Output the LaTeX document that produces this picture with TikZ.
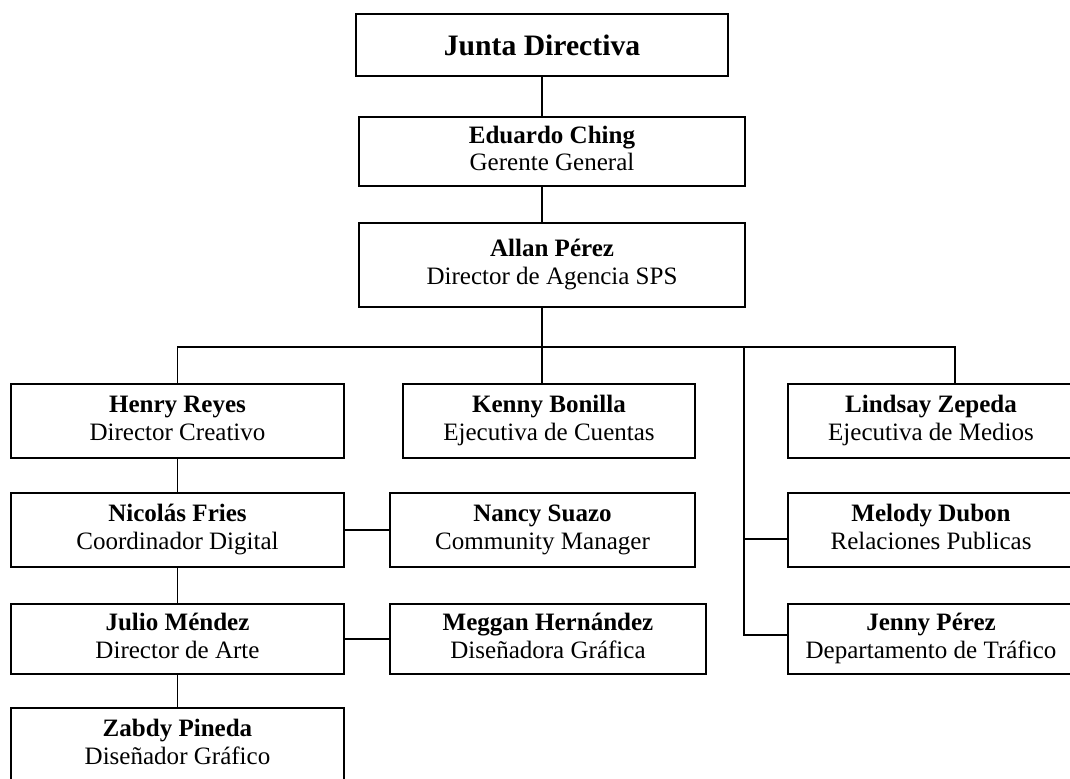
\documentclass[tikz,border=0pt]{standalone}
\usepackage{fontspec}
\setmainfont{Liberation Serif}
\usetikzlibrary{positioning}

\newcommand{\cargo}[2]{\textbf{#1}\strut\\#2\strut}

\begin{document}
\begin{tikzpicture}[
    x=0.025cm, y=-0.025cm,
    every node/.style={font=\fontsize{17.8}{19.6}\selectfont},
    puesto/.style={rectangle, draw=black, line width=1.4pt, align=center, inner sep=0pt, minimum height=1.85cm},
    linea/.style={line width=1.4pt}
]
\useasboundingbox (0,0) rectangle (1070,778);
\clip (0,0) rectangle (1070,778);

% cabeza
\node[puesto, minimum width=9.275cm, minimum height=1.55cm, font=\fontsize{21.1}{24}\selectfont\bfseries] (junta) at (542,45) {Junta Directiva};
\node[puesto, minimum width=9.65cm, minimum height=1.725cm] (eduardo) at (552,151.5) {\cargo{Eduardo Ching}{Gerente General}};
\node[puesto, minimum width=9.65cm, minimum height=2.1cm] (allan) at (552,265) {\cargo{Allan Pérez}{Director de Agencia SPS}};

% columna izquierda
\node[puesto, minimum width=8.325cm] (henry) at (177.5,421) {\cargo{Henry Reyes}{Director Creativo}};
\node[puesto, minimum width=8.325cm] (nicolas) at (177.5,530) {\cargo{Nicolás Fries}{Coordinador Digital}};
\node[puesto, minimum width=8.325cm, minimum height=1.75cm] (julio) at (177.5,639) {\cargo{Julio Méndez}{Director de Arte}};
\node[puesto, minimum width=8.325cm] (zabdy) at (177.5,745) {\cargo{Zabdy Pineda}{Diseñador Gráfico}};

% columna central
\node[puesto, minimum width=7.3cm] (kenny) at (549,421) {\cargo{Kenny Bonilla}{Ejecutiva de Cuentas}};
\node[puesto, minimum width=7.625cm] (nancy) at (542.5,530) {\cargo{Nancy Suazo}{Community Manager}};
\node[puesto, minimum width=7.9cm, minimum height=1.75cm] (meggan) at (548,639) {\cargo{Meggan Hernández}{Diseñadora Gráfica}};

% columna derecha
\node[puesto, minimum width=7.15cm] (lindsay) at (931,421) {\cargo{Lindsay Zepeda}{Ejecutiva de Medios}};
\node[puesto, minimum width=7.15cm] (melody) at (931,530) {\cargo{Melody Dubon}{Relaciones Publicas}};
\node[puesto, minimum width=7.15cm, minimum height=1.75cm] (jenny) at (931,639) {\cargo{Jenny Pérez}{Departamento de Tráfico}};

\coordinate (tronco) at (542,347);
\coordinate (ramaD) at (955,347);
\coordinate (eje) at (744,347);

\draw[linea] (tronco |- junta.south) -- (tronco |- eduardo.north);
\draw[linea] (tronco |- eduardo.south) -- (tronco |- allan.north);
\draw[linea] (tronco |- allan.south) -- (tronco);
\draw[linea] (henry.north) |- (ramaD) -- (ramaD |- lindsay.north);
\draw[linea] (tronco) -- (tronco |- kenny.north);
\draw[linea] (eje) |- ([yshift=0.1cm]jenny.west);
\draw[linea] ([yshift=-0.225cm]eje |- melody.west) -- ([yshift=-0.225cm]melody.west);

\draw[linea] (henry) -- (nicolas);
\draw[linea] (nicolas) -- (julio);
\draw[linea] (julio) -- (zabdy);
\draw[linea] (nicolas) -- (nancy);
\draw[linea] (julio) -- (meggan);

\end{tikzpicture}
\end{document}
